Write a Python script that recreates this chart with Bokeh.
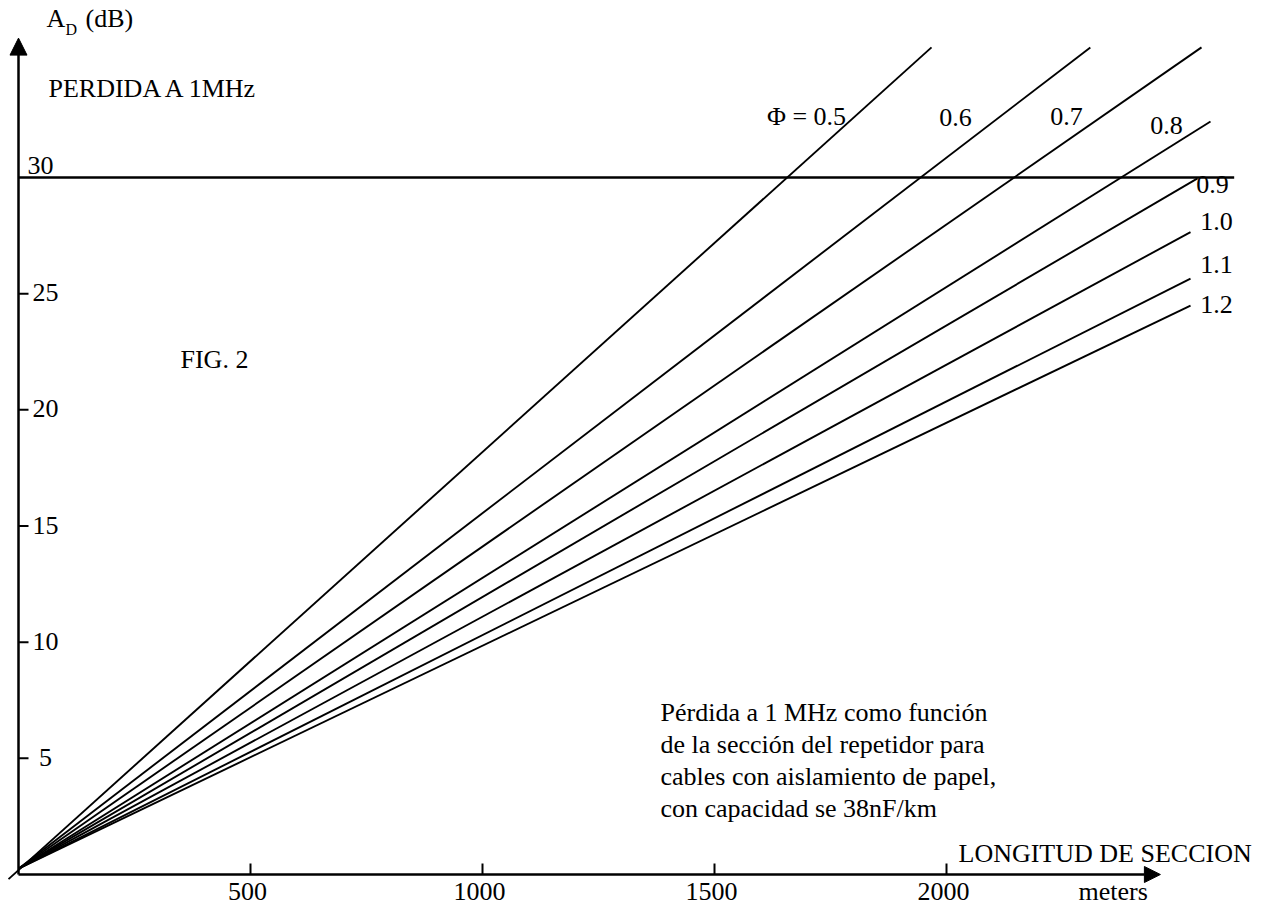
from bokeh.plotting import figure
from bokeh.models import Range1d, Label, Arrow, NormalHead
from bokeh.core.properties import value
from bokeh.embed import file_html
from bokeh.resources import INLINE

# ---------------- data ----------------
phi_values = [0.5, 0.6, 0.7, 0.8, 0.9, 1.0, 1.1, 1.2]
phi_labels = ["Φ = 0.5", "0.6", "0.7", "0.8", "0.9", "1.0", "1.1", "1.2"]
start_len = [-21.5, 0, 0, 0, 0, 0, 0, 0]            # m
start_db = [-0.2, 0.25, 0.25, 0.25, 0.25, 0.25, 0.25, 0.25]
end_len = [1967.7, 2310.0, 2549.6, 2569.0, 2541.0, 2525.9, 2525.9, 2525.9]  # m
end_db = [35.6, 35.6, 35.6, 32.41, 29.96, 27.65, 25.65, 24.49]            # dB

xtick_vals = [500, 1000, 1500, 2000]
xtick_labels = ["500", "1000", "1500", "2000"]
ytick_vals = [5, 10, 15, 20, 25]
ytick_labels = ["5", "10", "15", "20", "25"]
ref_level = 30
ref_label = "30"
ref_line_end = 2620
x_axis_end = 2461
y_axis_end = 36.0

# ---------------- layout helpers (page px <-> data) ----------------
W, H = 1264, 908
X0, KX = 18.0, 0.464      # page px of x=0, px per metre
Y0, KY = 874.0, 23.233    # page px of y=0, px per dB
FONT = "Liberation Serif"
FS = "26px"
SHIFT = 9.5               # rendered glyphs sit this much below the anchor


def dx(px):
    return (px - X0) / KX


def dy(py):
    return (Y0 - py) / KY


p = figure(width=W, height=H, output_backend="svg", toolbar_location=None,
           x_range=Range1d(dx(0), dx(W)), y_range=Range1d(dy(H), dy(0)),
           x_axis_location=None, y_axis_location=None, min_border=0)
p.outline_line_color = None
p.xgrid.visible = False
p.ygrid.visible = False
p.background_fill_color = "white"
p.border_fill_color = "white"

# reference level line (30 dB)
p.segment(x0=[0], y0=[ref_level], x1=[ref_line_end], y1=[ref_level],
          line_color="black", line_width=2.5)

# curves
p.segment(x0=start_len, y0=start_db, x1=end_len, y1=end_db,
          line_color="black", line_width=1.9)

# axes with arrows
p.add_layout(Arrow(x_start=0, y_start=0, x_end=0, y_end=y_axis_end,
                   line_color="black", line_width=2.5,
                   end=NormalHead(size=17, fill_color="black", line_color="black")))
p.add_layout(Arrow(x_start=0, y_start=0, x_end=x_axis_end, y_end=0,
                   line_color="black", line_width=2.5,
                   end=NormalHead(size=16, fill_color="black", line_color="black")))

# tick marks
p.ray(x=[0] * len(ytick_vals), y=ytick_vals, length=10, length_units="screen",
      angle=0, line_color="black", line_width=2)
p.ray(x=xtick_vals, y=[0] * len(xtick_vals), length=11, length_units="screen",
      angle=1.5707963, line_color="black", line_width=2)

# tick labels
p.text(x=[0] * len(ytick_vals), y=ytick_vals, text=ytick_labels,
       x_offset=27, y_offset=8.5 - SHIFT, text_align="center", text_baseline="alphabetic",
       text_font=value(FONT), text_font_size=value(FS), text_color="black")
p.text(x=xtick_vals, y=[0] * len(xtick_vals), text=xtick_labels,
       x_offset=-3, y_offset=26 - SHIFT, text_align="center", text_baseline="alphabetic",
       text_font=value(FONT), text_font_size=value(FS), text_color="black")


def lab(text, px, py, size=FS, align="left", shift=SHIFT):
    p.add_layout(Label(x=dx(px), y=dy(py - shift), text=text, text_font=FONT,
                       text_font_size=size, text_align=align,
                       text_baseline="alphabetic", text_color="black"))


lab(ref_label, 27, 174)

# curve labels (centre x, baseline y in page px)
curve_label_pos = [(806, 125), (955, 126.5), (1066, 125), (1166, 134),
                   (1212, 193), (1216, 230), (1216, 273), (1216, 313)]
for t, (px, py) in zip(phi_labels, curve_label_pos):
    lab(t, px, py, align="center")

# axis titles and notes
lab("A", 46, 27)
lab("D", 65, 35, size="16px", shift=6)
lab("(dB)", 85, 27)
lab("PERDIDA A 1MHz", 48, 97)
lab("FIG. 2", 180, 368)
lab("LONGITUD DE SECCION", 958, 862)
lab("meters", 1078, 900)

note_lines = ["Pérdida a 1 MHz como función",
              "de la sección del repetidor para",
              "cables con aislamiento de papel,",
              "con capacidad se 38nF/km"]
for i, t in enumerate(note_lines):
    lab(t, 660, 721 + 32 * i)

open("out.html", "w").write(file_html(p, INLINE))
